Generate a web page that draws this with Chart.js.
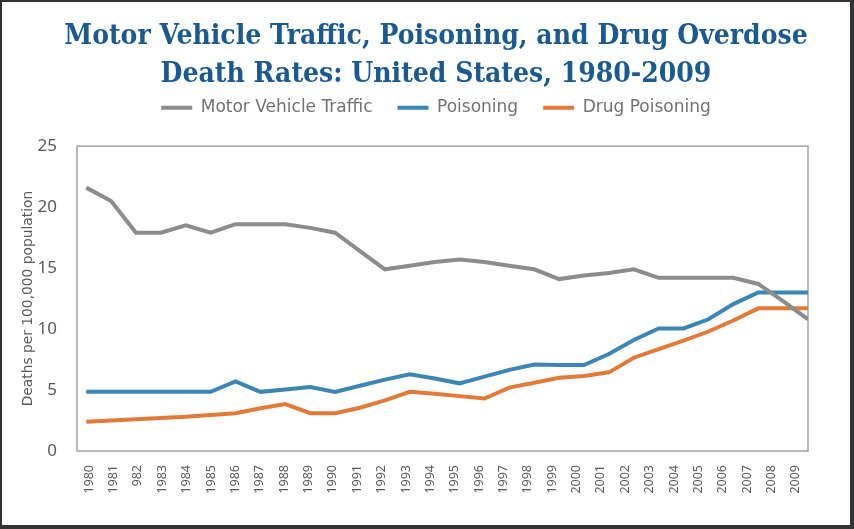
<!DOCTYPE html>
<html>
<head>
<meta charset="utf-8">
<script src="https://cdn.jsdelivr.net/npm/chart.js@4/dist/chart.umd.min.js"></script>
<style>
  html, body { margin: 0; padding: 0; background: #333333; width: 854px; height: 529px; overflow: hidden; }
  #frame { position: absolute; left: 2px; top: 2px; width: 848px; height: 523px; background: #ffffff; overflow: hidden; }
  #c { position: absolute; left: 0; top: 0; }
</style>
</head>
<body>
<div id="frame"><canvas id="c" width="868" height="523"></canvas></div>
<script>
// ---- data ----
const yearLabels = ['1980','1981','982','1983','1984','1985','1986','1987','1988','1989',
                    '1990','1991','1992','1993','1994','1995','1996','1997','1998','1999',
                    '2000','2001','2002','2003','2004','2005','2006','2007','2008','2009'];
const motorVehicleTraffic = [21.6, 20.5, 17.9, 17.9, 18.5, 17.9, 18.6, 18.6, 18.6, 18.3,
                             17.9, 16.4, 14.9, 15.2, 15.5, 15.7, 15.5, 15.2, 14.9, 14.1,
                             14.4, 14.6, 14.9, 14.2, 14.2, 14.2, 14.2, 13.7, 12.3, 10.8];
const poisoning = [4.85, 4.85, 4.85, 4.85, 4.85, 4.85, 5.7, 4.85, 5.05, 5.25,
                   4.85, 5.35, 5.85, 6.3, 5.95, 5.55, 6.1, 6.65, 7.1, 7.05,
                   7.05, 7.95, 9.1, 10.05, 10.05, 10.8, 12.05, 13.0, 13.0, 13.0];
const drugPoisoning = [2.4, 2.5, 2.6, 2.7, 2.8, 2.95, 3.1, 3.5, 3.85, 3.1,
                       3.1, 3.55, 4.15, 4.85, 4.7, 4.5, 4.3, 5.2, 5.6, 6.0,
                       6.15, 6.45, 7.65, 8.35, 9.05, 9.8, 10.7, 11.7, 11.7, 11.7];
const yTicks = [0, 5, 10, 15, 20, 25];
const seriesNames = ['Motor Vehicle Traffic', 'Poisoning', 'Drug Poisoning'];

const COLORS = ['#8c8c8c', '#3b86b5', '#e27a3a'];
const toPoints = arr => arr.map((v, i) => ({ x: i, y: v }));

const plotBorder = {
  id: 'plotBorder',
  beforeDatasetsDraw(chart) {
    const { ctx, chartArea: a } = chart;
    ctx.save();
    ctx.strokeStyle = '#a3a3a3';
    ctx.lineWidth = 1.5;
    ctx.strokeRect(a.left, a.top, a.right - a.left, a.bottom - a.top);
    ctx.restore();
  }
};

new Chart(document.getElementById('c'), {
  type: 'line',
  data: {
    datasets: [motorVehicleTraffic, poisoning, drugPoisoning].map((arr, k) => ({
      label: seriesNames[k],
      data: toPoints(arr),
      xAxisID: 'xd',
      yAxisID: 'y',
      borderColor: COLORS[k],
      backgroundColor: COLORS[k],
      borderWidth: 4,
      pointRadius: 0,
      tension: 0,
      fill: false
    }))
  },
  options: {
    responsive: false,
    animation: false,
    devicePixelRatio: 1,
    layout: { padding: 0 },
    plugins: {
      tooltip: { enabled: false },
      title: {
        display: true,
        text: ['Motor Vehicle Traffic, Poisoning, and Drug Overdose', 'Death Rates: United States, 1980-2009'],
        color: '#1a5a90',
        font: { family: "'DejaVu Serif Condensed', 'DejaVu Serif', serif", size: 28, weight: 'bold', lineHeight: 1.36 },
        padding: { top: 16, bottom: -20 }
      },
      legend: {
        display: true,
        position: 'top',
        labels: {
          color: '#727272',
          font: { family: "'DejaVu Sans', sans-serif", size: 17 },
          boxWidth: 31,
          boxHeight: 4,
          padding: 25,
          generateLabels(chart) {
            return Chart.defaults.plugins.legend.labels.generateLabels(chart).map(l => ({ ...l, lineWidth: 0 }));
          }
        }
      }
    },
    scales: {
      xt: {
        type: 'category',
        position: 'top',
        labels: [''],
        grid: { display: false },
        border: { display: false },
        ticks: { display: false },
        afterFit(s) { s.height = 20; }
      },
      x: {
        type: 'category',
        position: 'bottom',
        labels: yearLabels,
        offset: true,
        grid: { display: false },
        border: { display: false },
        ticks: {
          autoSkip: false,
          minRotation: 90,
          maxRotation: 90,
          padding: 6,
          color: '#5a5a5a',
          font: { family: "'Noto Sans', sans-serif", size: 12.5 }
        },
        afterFit(s) { s.height = 74; }
      },
      xd: {
        type: 'linear',
        display: false,
        min: -0.37,
        max: 29
      },
      y: {
        type: 'linear',
        position: 'left',
        min: 0,
        max: 25,
        grid: { display: false },
        border: { display: false },
        afterBuildTicks(s) { s.ticks = yTicks.map(v => ({ value: v })); },
        ticks: {
          padding: 12,
          color: '#5a5a5a',
          font: { family: "'Noto Sans', sans-serif", size: 17 }
        },
        title: {
          display: true,
          text: 'Deaths per 100,000 population',
          color: '#5a5a5a',
          font: { family: "'DejaVu Sans', sans-serif", size: 13.8 },
          padding: { top: 18, bottom: 0 }
        },
        afterFit(s) { s.width = 75; }
      },
      yr: {
        type: 'linear',
        position: 'right',
        grid: { display: false },
        border: { display: false },
        ticks: { display: false },
        afterFit(s) { s.width = 62; }
      }
    }
  },
  plugins: [plotBorder]
});
</script>
</body>
</html>
